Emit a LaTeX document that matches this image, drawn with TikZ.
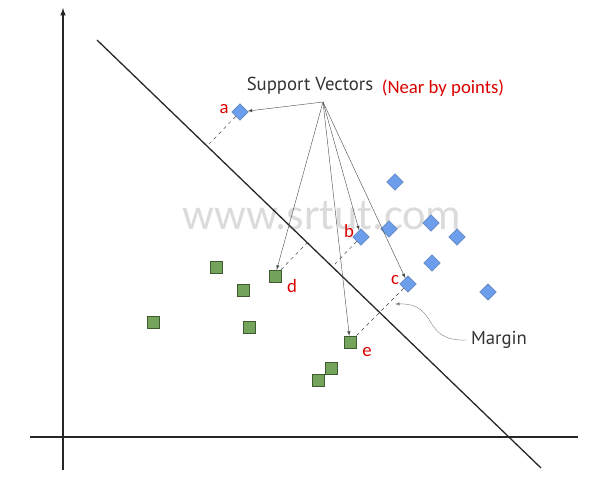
\documentclass[tikz,border=0pt]{standalone}
\usepackage{fontspec}
\setmainfont{Carlito}
\newfontfamily\dinfont{PT Sans}
\usetikzlibrary{shapes.geometric, calc}
\definecolor{svblue}{HTML}{6D9EEB}
\definecolor{svgreen}{HTML}{74A35B}
\begin{document}
\begin{tikzpicture}[>=latex, x=0.03cm, y=-0.03cm,
  blob/.style={diamond, draw=svblue!80!black, fill=svblue, inner sep=0pt, minimum size=0.5cm},
  box/.style={rectangle, draw=black!45!svgreen, fill=svgreen, inner sep=0pt, minimum size=0.36cm},
  lbl/.style={text=red!85!black, font=\fontsize{16}{16}\selectfont},
  pointer/.style={->, black!70, line width=0.35pt}]
\useasboundingbox (0,0) rectangle (600,482);
% axes
\draw[->, line width=1.2pt, black!85] (63,470) -- (63,8);
\draw[line width=1.2pt, black!85] (30,437) -- (578,437);
% watermark
\node[text=black!14, font=\fontsize{38}{38}\selectfont] (wm) at (322,216) {www.srtut.com};
% separating line
\coordinate (h1) at (97,40);
\coordinate (h2) at (541,468);
\draw[line width=1.1pt, black!85] (h1) -- (h2);
% points
\foreach \n/\x/\y in {a/240/112, b/361/237, c/408/284, p1/395/182, p2/389/229,
                      p3/431/223, p4/457/237, p5/432/263, p6/488/292}
  \node[blob] (\n) at (\x,\y) {};
\foreach \n/\x/\y in {d/275/276, e/350/342, q1/216/267, q2/243/290, q3/153/322,
                      q4/249/327, q5/331/368, q6/318/380}
  \node[box] (\n) at (\x,\y) {};
\node[lbl] (la) at (224,109) {a};
\node[lbl] (lb) at (349,231) {b};
\node[lbl] (lc) at (395,280) {c};
\node[lbl] (ld) at (292,286) {d};
\node[lbl] (le) at (367,352) {e};
% distances to the line
\foreach \n in {a,b,d}
  \draw[dashed, black!75] (\n) -- ($(h1)!(\n)!(h2)$);
\draw[dashed, black!75] (c) -- (e);
% support vectors
\node[font=\dinfont\fontsize{16}{16}\selectfont, text=black!80] (sv) at (310,86) {Support Vectors};
\node[lbl] (near) at (443,88) {(Near by points)};
\coordinate (src) at (323,102);
\foreach \t in {a,b,c,d,e}
  \draw[pointer] (src) -- (\t);
% margin
\node[font=\dinfont\fontsize{16}{16}\selectfont, text=black!80] (mg) at (499,340) {Margin};
\coordinate (mtip) at (395,304);
\draw[pointer, black!50] (mg.west) .. controls (420,342) and (440,303) .. (mtip);
\end{tikzpicture}
\end{document}
